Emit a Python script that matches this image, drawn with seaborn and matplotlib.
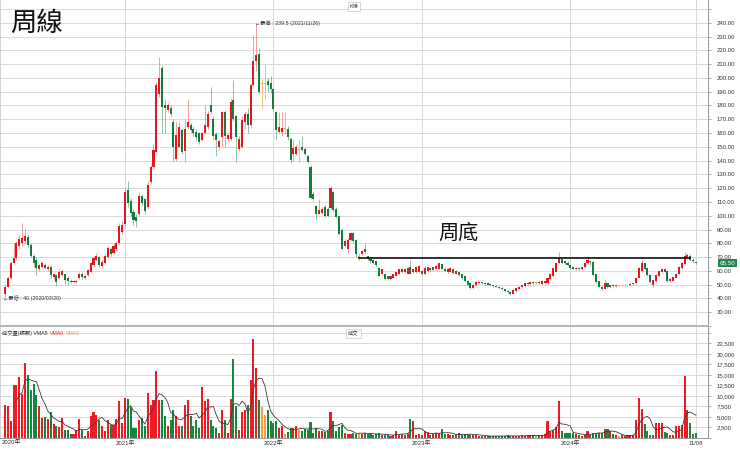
# -*- coding: utf-8 -*-
import numpy as np
import pandas as pd
import seaborn as sns
import matplotlib.pyplot as plt
import matplotlib.transforms as mtransforms
from matplotlib.ticker import MultipleLocator, FuncFormatter
from matplotlib.offsetbox import TextArea, HPacker, AnchoredOffsetbox

sns.set_theme(style="white")
plt.rcParams["font.family"] = ["Liberation Sans", "Noto Sans CJK TC", "DejaVu Sans"]

# =============== DATA (weekly bars, first bar 2020/03/20) ===============
FIRST_WEEK = "2020-03-20"
YEAR_STARTS = ["2021-01-08", "2022-01-07", "2023-01-06", "2024-01-05"]

opens = [
    43, 48.5, 55, 66, 69, 78, 80, 82, 84.5, 79,
    71, 68, 61.5, 63, 64.5, 61.5, 63, 55.5, 57, 55,
    57, 57.5, 55, 53, 52, 52, 54.5, 58, 54.5, 57,
    59, 64, 68, 70, 63.5, 66, 70, 76, 73, 76,
    80, 88.5, 94, 119, 111, 103, 99, 101, 114, 112,
    106, 124.5, 135.5, 146.5, 188, 207, 180, 177, 178, 168,
    141, 150, 162, 147, 164.5, 166, 163, 161, 160, 155,
    160, 164.5, 180, 170.5, 159, 150, 157, 175, 156, 156,
    184, 172, 148.5, 150, 168, 174, 165.5, 195, 212.5, 217.5,
    196, 196, 198, 196.5, 192, 175, 161, 161, 163, 163,
    156, 145, 145, 148, 150, 148.5, 143, 135.5, 116, 107,
    101.5, 102, 106, 105, 105.5, 117.5, 105, 99.5, 90, 78,
    75.5, 82.5, 87.5, 82.5, 70.5, 72.5, 75.5, 70.5, 68.5, 68,
    67, 62, 57.5, 57.5, 56, 54, 55, 56.5, 57.5, 59,
    61.5, 58, 62.5, 59, 59, 59.5, 60, 57.5, 60, 62,
    60.5, 61, 61.5, 65, 61.5, 59, 59.5, 61.5, 58, 59,
    58, 56, 53, 51, 47.5, 49.5, 51, 52, 50.5, 51,
    50.5, 49.5, 49, 48.5, 47.5, 46.5, 45.5, 44.5, 43.5, 45.5,
    47, 48, 49, 50.5, 50.5, 52, 51.5, 52, 50.5, 51,
    51, 54, 56, 59.5, 65.5, 68.5, 67.5, 66, 64.5, 62.5,
    61, 62, 61, 62.5, 65.5, 67.5, 66.5, 57.5, 52.5, 48.5,
    47, 51, 48, 49.5, 49, 49.5, 49.5, 50, 49.5, 50,
    50.5, 51, 55, 60, 65.5, 62, 57, 50, 52.5, 56,
    59, 61, 60, 52.5, 53, 55, 57.5, 62, 65, 69.5,
    71, 68, 66.5,
]
highs = [
    50, 56, 67, 80, 82, 86, 94.5, 91, 87, 80,
    72, 70, 65, 67, 66, 64, 64, 58, 58, 61,
    61, 58, 56, 54, 53.5, 54, 59, 59, 57, 61.5,
    66.5, 71, 73, 71, 68, 72, 78, 77, 80, 82,
    95, 96, 120, 125.5, 113, 105, 101, 117, 116, 113,
    125, 137, 152, 197, 215, 209, 185, 182, 180, 170,
    168, 168, 164, 170, 184, 167, 165, 163, 161, 161,
    180, 176, 193.5, 172, 161, 156, 176, 177, 160, 185,
    198.5, 173, 158, 172, 176, 178, 196, 231, 239.5, 222,
    199.5, 209, 200, 201.5, 193, 176, 175, 176, 175, 165,
    157, 156, 152, 156, 158, 150, 144, 137, 118, 108,
    112, 106, 108, 106, 121.5, 118, 106, 100, 91, 83,
    84, 88.5, 88, 83, 73, 75, 80, 71, 69, 68.5,
    67.5, 63, 61.5, 58, 56.5, 56.5, 58, 59.5, 61.5, 62,
    62, 62.5, 68, 61.5, 63.5, 64, 60.5, 63.5, 63, 62.5,
    63.5, 64, 66, 65.5, 62, 62, 62.5, 62, 60.5, 59.5,
    58.5, 56.5, 53.5, 51.5, 50.5, 52.5, 52.5, 52.5, 52, 51.5,
    51, 50, 49.5, 49, 48, 47, 46, 45, 46.5, 48,
    49, 50, 51.5, 52, 52.5, 52.5, 52.5, 52.5, 53, 53,
    55.5, 58.5, 62.5, 66, 74, 69.5, 68, 67, 65, 63,
    62.5, 62.5, 63, 66.5, 70, 68, 67, 58, 53, 49,
    54, 51.5, 50, 50, 50, 50, 50.5, 50.5, 50.5, 51,
    51.5, 55, 62.5, 68, 66, 62.5, 57.5, 54, 57.5, 60.5,
    62, 62, 60.5, 54.5, 56, 58.5, 63.5, 66.5, 74, 73,
    72, 69, 67,
]
lows = [
    40, 48, 54, 65, 68, 76, 78, 80, 77, 70,
    63, 57, 60, 62, 61, 60, 55, 54, 49, 54,
    56, 50.5, 50, 51, 51, 51.5, 54, 54, 54, 56,
    58.5, 63, 67, 63, 62, 65, 69, 71, 72, 75,
    79, 87, 92, 106, 100, 93, 92, 100, 107, 101,
    105, 123, 134, 146, 186, 160, 160, 175, 172, 140,
    140, 150, 145, 139, 163, 161, 158, 155, 152, 154,
    159, 163, 174, 156, 143, 148, 150, 150, 154, 155,
    169, 139, 147, 149, 163, 160, 164, 194, 205, 188,
    178, 185, 190, 189, 176, 155, 160, 158, 159, 155,
    138, 140, 144, 139, 147, 144, 138, 112, 111, 97,
    101, 101, 99, 99, 105, 103, 98, 86, 75, 77,
    73, 82, 80, 70, 67.5, 71.5, 73, 68, 66, 65,
    63.5, 56, 57, 53.5, 53.5, 53.5, 54.5, 56, 57, 58.5,
    58.5, 57.5, 57.5, 58.5, 58.5, 59, 57, 57, 59.5, 60,
    60, 60.5, 61, 61, 59.5, 58.5, 59, 58, 57.5, 56.5,
    54, 52, 49.5, 46.5, 47, 49, 50.5, 50.5, 50, 49.5,
    49, 48.5, 48, 47, 46, 45, 44, 42.5, 43, 45,
    46.5, 47.5, 48.5, 50, 50, 50.5, 50.5, 50.5, 50, 50.5,
    50.5, 53.5, 55.5, 59, 65, 65.5, 65, 63.5, 61.5, 61,
    60.5, 60.5, 60.5, 62, 65, 64.5, 56.5, 51.5, 48, 46,
    46.5, 47.5, 47.5, 48.5, 48.5, 49, 49, 49, 49, 49.5,
    50, 50.5, 54.5, 59.5, 61, 56.5, 51.5, 48.5, 52, 55.5,
    58.5, 59, 52, 52, 52.5, 54.5, 57, 61.5, 64.5, 68.5,
    67.5, 66, 65,
]
closes = [
    48, 55, 66, 69.5, 80, 83, 84, 85, 78.5, 71,
    66, 62, 64, 65.5, 62, 63, 57, 57.5, 52, 59.5,
    60, 53.5, 52.5, 52, 52.5, 53, 57.5, 55.5, 56, 60.5,
    65.5, 69.5, 70.5, 64, 66.5, 70.5, 76.5, 72.5, 78, 80.5,
    92.5, 93.5, 117.5, 109, 102, 97, 96, 114, 109, 103.5,
    122, 135.5, 147.5, 195, 200, 179, 178, 180, 173.5, 150,
    158.5, 164.5, 146.5, 163, 168, 162, 160, 157, 153.5, 160,
    166, 174, 175.5, 157.5, 155, 154, 175, 157.5, 158.5, 182.5,
    170.5, 157, 156, 169.5, 174, 166, 195, 212, 216.5, 190,
    196, 196, 195, 192, 177.5, 162, 164.5, 164, 163, 157,
    140.5, 149, 150, 148, 148, 145, 139, 113, 112, 101,
    104, 105, 100, 100, 120, 104.5, 99, 87, 76, 81.5,
    82.5, 87.5, 81.5, 72, 70.5, 74.5, 73.5, 68.5, 67, 66,
    64, 56.5, 61, 54, 54, 56, 57.5, 59, 61, 61,
    59, 62, 58, 61, 63, 63.5, 57.5, 62, 62.5, 60.5,
    63, 63.5, 65.5, 61.5, 60, 61.5, 62, 58.5, 60, 57,
    54.5, 52.5, 50, 47.5, 50, 52, 52, 51, 51.5, 50,
    49.5, 49, 48.5, 47.5, 46.5, 45.5, 44.5, 43.5, 46, 47.5,
    48.5, 49.5, 51, 51.5, 52, 51, 51.5, 51, 52.5, 52.5,
    55, 58, 62, 65.5, 69, 66, 65.5, 64, 62, 61.5,
    62, 61, 62.5, 66, 68, 66.5, 57, 52, 48.5, 46.5,
    51, 48, 49.5, 49, 49.5, 49.5, 50, 49.5, 50, 50.5,
    51, 54.5, 62, 65.5, 61.5, 57, 52, 53.5, 57, 60,
    61.5, 59.5, 53, 54, 55.5, 58, 63, 66, 70.5, 71.5,
    68, 67, 65.5,
]
# 成交量 (張)
volumes = [
    7900, 7500, 3950, 12600, 12600, 14400, 10500, 17750, 15000, 11400,
    12900, 10250, 7650, 4700, 4950, 4500, 6300, 3400, 2750, 2600,
    4700, 2000, 2000, 1000, 1000, 1800, 4500, 2000, 550, 1600,
    5300, 6300, 5500, 4350, 2900, 1600, 4350, 3150, 3150, 4500,
    8700, 3550, 9500, 9300, 7350, 2350, 2350, 4350, 4750, 2750,
    10650, 7900, 9100, 16000, 9100, 9100, 5150, 2900, 4350, 6700,
    5150, 2900, 2900, 7900, 9100, 5150, 2900, 4350, 2350, 12200,
    8700, 9200, 4350, 2900, 2350, 1200, 6700, 4350, 1200, 9200,
    18700, 7500, 2000, 6300, 6550, 7900, 13800, 23650, 16700, 9100,
    7350, 5500, 6550, 3950, 3550, 3950, 2350, 2750, 950, 1400,
    2350, 2350, 2900, 2000, 1600, 2100, 2000, 3700, 1200, 2350,
    1600, 1600, 1350, 1600, 6300, 3950, 1600, 2600, 3000, 1200,
    1000, 1000, 1300, 1000, 1300, 1000, 1200, 1000, 1000, 800,
    900, 1200, 700, 800, 600, 500, 700, 1750, 800, 900,
    700, 1000, 4500, 3950, 800, 900, 600, 1700, 1500, 700,
    900, 1100, 1200, 2100, 1000, 900, 800, 700, 600, 1100,
    800, 900, 1000, 800, 600, 800, 500, 500, 400, 400,
    450, 500, 400, 500, 450, 500, 600, 500, 400, 500,
    500, 600, 500, 700, 600, 600, 500, 600, 800, 900,
    4100, 1600, 2000, 2600, 8700, 1750, 1300, 1200, 1200, 1200,
    1000, 600, 550, 700, 1600, 800, 1200, 1200, 1300, 1200,
    2100, 2100, 1700, 900, 700, 500, 600, 500, 600, 700,
    600, 4350, 9600, 6850, 3300, 1600, 800, 700, 3550, 3550,
    3550, 1350, 1200, 700, 600, 2900, 2900, 3000, 14750, 6550,
    3550, 1000, 1200,
]

# 周底 neckline
NECK_LEVEL = 69.5
NECK_FROM, NECK_TO = 123.5, 240.2

n = len(closes)
for arr in (opens, highs, lows, volumes):
    assert len(arr) == n, "series length mismatch"

# =============== FRAME ===============
dates = pd.date_range(FIRST_WEEK, periods=n, freq="W-FRI")
df = pd.DataFrame({"week": np.arange(n), "open": opens, "high": highs,
                   "low": lows, "close": closes, "volume": volumes})
df["dir"] = np.select([df.close > df.open, df.close < df.open], ["up", "down"], "flat")
df["vma5"] = df["volume"].rolling(5).mean()

BODY = {"up": "#e5161d", "down": "#147c3c", "flat": "#f0a03c"}
WICK = {"up": "#f08f8f", "down": "#7fba93", "flat": "#f2b060"}
VOL = {"up": "#ec1c24", "down": "#16873d", "flat": "#f4a040"}
GRID = "#d9d9d9"
TICKFONT = dict(fontsize=4.3, color="#333333")

W, H = 740, 451
fig = plt.figure(figsize=(W / 100, H / 100), dpi=100)
ax_p = fig.add_axes([0, 1 - 326 / H, 708 / W, 326 / H])
ax_v = fig.add_axes([0, 1 - 438 / H, 708 / W, 111 / H])
XLIM = (-1.75, 246.2)

# =============== PRICE PANEL ===============
ax_p.vlines(df.week, df.low, df.high, colors=df["dir"].map(WICK), linewidth=0.6, zorder=2)
body = (df.close - df.open).abs()
body_h = np.maximum(body, 0.7)
body_lo = np.minimum(df.open, df.close) - (body_h - body) / 2
ax_p.bar(df.week, body_h, bottom=body_lo, width=0.72, color=df["dir"].map(BODY),
         linewidth=0, zorder=3)

ax_p.hlines(NECK_LEVEL, NECK_FROM, NECK_TO, color="black", linewidth=1.1, zorder=4)

hi_i = int(df.high.idxmax())
lo_i = int(df.low.idxmin())
ax_p.text(hi_i - 0.4, df.high[hi_i],
          f"←最高 : {df.high[hi_i]:g} ({dates[hi_i]:%Y/%m/%d})",
          fontsize=3.8, color="#333333", ha="left", va="center", zorder=5)
ax_p.text(lo_i - 0.6, df.low[lo_i],
          f"←最低 : {df.low[lo_i]:g} ({dates[lo_i]:%Y/%m/%d})",
          fontsize=3.8, color="#333333", ha="left", va="center", zorder=5)

ax_p.text(10 / 708, 1 - 23 / 326, "周線", transform=ax_p.transAxes, fontsize=19,
          family=["Noto Sans CJK TC"], ha="left", va="center", color="#111111")
ax_p.text(458 / 708, 1 - 233.5 / 326, "周底", transform=ax_p.transAxes, fontsize=14.5,
          family=["Noto Sans CJK TC"], ha="center", va="center", color="#111111")
ax_p.text(354 / 708, 1 - 6.5 / 326, "K線", transform=ax_p.transAxes, fontsize=3.8,
          ha="center", va="center", color="#333333",
          bbox=dict(boxstyle="square,pad=0.35", fc="white", ec="#c8c8c8", lw=0.5))

# last price tag on the right
tag = mtransforms.blended_transform_factory(ax_p.transAxes, ax_p.transData)
ax_p.text(720 / 708, df.close.iloc[-1], f"{df.close.iloc[-1]:.2f}", transform=tag,
          fontsize=4.5, color="white", ha="left", va="center", clip_on=False,
          bbox=dict(boxstyle="square,pad=0.25", fc="#1f8a4c", ec="none"))

ax_p.set_ylim(20, 256.5)
ax_p.yaxis.tick_right()
ax_p.set_yticks(np.arange(20, 251, 10))
ax_p.yaxis.set_major_formatter(FuncFormatter(lambda v, _: "" if v in (20, 250) else f"{v:.2f}"))
ax_p.yaxis.set_minor_locator(MultipleLocator(2.5))

# =============== VOLUME PANEL ===============
sns.barplot(data=df, x="week", y="volume", hue="dir", palette=VOL,
            hue_order=["up", "down", "flat"], native_scale=True, dodge=False,
            width=0.72, saturation=1, errorbar=None, legend=False, linewidth=0,
            ax=ax_v, zorder=3)
sns.lineplot(data=df, x="week", y="vma5", color="#3a3a3a", linewidth=0.6, ax=ax_v, zorder=4)

ax_v.set_ylim(0, 26400)
ax_v.yaxis.tick_right()
ax_v.set_yticks(np.arange(0, 25001, 2500))
ax_v.yaxis.set_major_formatter(FuncFormatter(lambda v, _: "" if v in (0, 25000) else f"{v:,.0f}"))
ax_v.yaxis.set_minor_locator(MultipleLocator(625))

parts = [TextArea("成交量(張數) VMA5", textprops=dict(color="#333333", size=3.8)),
         TextArea("VMA0", textprops=dict(color="#e8262a", size=3.8)),
         TextArea("VMA0", textprops=dict(color="#d9a06a", size=3.8))]
header = AnchoredOffsetbox(loc="upper left", child=HPacker(children=parts, sep=1.5, pad=0),
                           pad=0, borderpad=0, frameon=False,
                           bbox_to_anchor=(2 / 708, 1 - 3 / 111),
                           bbox_transform=ax_v.transAxes)
ax_v.add_artist(header)
ax_v.text(353.5 / 708, 1 - 6.5 / 111, "成交", transform=ax_v.transAxes, fontsize=3.8,
          ha="center", va="center", color="#333333",
          bbox=dict(boxstyle="square,pad=0.35", fc="white", ec="#c8c8c8", lw=0.5))

# =============== SHARED STYLING ===============
year_idx = [dates.get_loc(pd.Timestamp(d)) for d in YEAR_STARTS]
xt = year_idx + [n - 1]
xl = [f"{dates[i].year}年" for i in year_idx] + [f"{dates[-1]:%m/%d}"]

for ax in (ax_p, ax_v):
    ax.set_xlim(*XLIM)
    ax.set_xticks(xt)
    ax.set_xlabel("")
    ax.set_ylabel("")
    ax.grid(True, which="major", color=GRID, linewidth=0.7, zorder=0)
    ax.set_axisbelow(True)
    ax.tick_params(axis="y", which="major", length=2, width=0.5, color="#888888",
                   pad=4.5, labelsize=TICKFONT["fontsize"], labelcolor=TICKFONT["color"])
    ax.tick_params(axis="y", which="minor", length=1, width=0.4, color="#aaaaaa", right=True, left=False)
    ax.spines["top"].set_visible(False)
    ax.spines["left"].set_color("#cccccc")
    ax.spines["left"].set_linewidth(0.6)
    ax.spines["right"].set_color("#9a9a9a")
    ax.spines["right"].set_linewidth(0.7)

ax_p.tick_params(axis="x", length=0, labelbottom=False)
ax_p.spines["bottom"].set_color("#b4b4b4")
ax_p.spines["bottom"].set_linewidth(1.4)

ax_v.set_xticklabels(xl)
ax_v.tick_params(axis="x", length=0, pad=2, labelsize=4.3, labelcolor="#333333")
ax_v.spines["bottom"].set_color("#9a9a9a")
ax_v.spines["bottom"].set_linewidth(0.7)
ax_v.text(2 / 708, -2 / 111, f"{dates[0].year}年", transform=ax_v.transAxes,
          fontsize=4.3, color="#333333", ha="left", va="top")

fig.savefig("out.png", dpi=100)
plt.close(fig)
